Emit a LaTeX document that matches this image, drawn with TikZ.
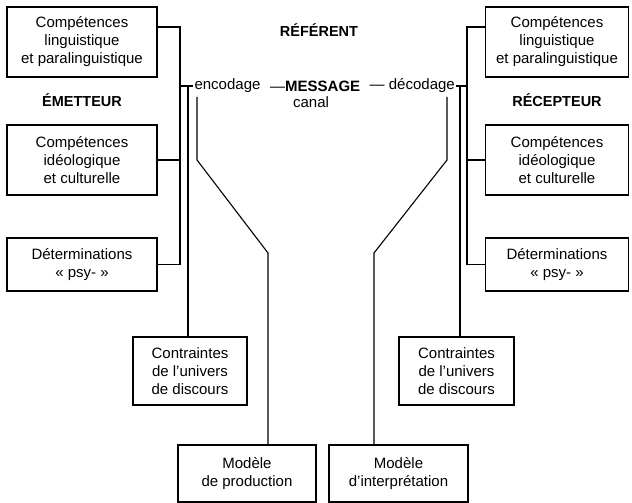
\documentclass[tikz,border=0pt]{standalone}
\usepackage{fontspec}
\setmainfont{Liberation Sans}
\usetikzlibrary{positioning,calc}
\tikzset{
  box/.style      = {draw, line width=1.1pt, align=center, inner sep=2pt,
                     font=\fontsize{15}{18}\selectfont},
  widebox/.style  = {box, minimum width=150, minimum height=70},
  psybox/.style   = {box, minimum width=150, minimum height=53},
  wire/.style     = {line width=1.1pt},
  role/.style     = {font=\fontsize{14.5}{17}\selectfont\bfseries},
  flow/.style     = {font=\fontsize{15}{17}\selectfont, inner sep=1pt},
}

\begin{document}
\begin{tikzpicture}[x=1pt,y=1pt]
  \useasboundingbox (0,0) rectangle (632,503);

  % emetteur side
  \node[widebox] (lling) at (82,461) {Compétences\\linguistique\\et paralinguistique};
  \node[role] (emet) at (82,403) {ÉMETTEUR};
  \node[widebox] (lideo) at (82,343) {Compétences\\idéologique\\et culturelle};
  \node[psybox] (lpsy) at (82,238.5) {Déterminations\\« psy- »};
  \node[box, minimum width=114, minimum height=68] (lcontr) at (190,132)
       {Contraintes\\de l’univers\\de discours};
  \node[box, minimum width=138, minimum height=57] (lprod) at (247,29.5)
       {Modèle\\de production};

  % recepteur side
  \node[widebox, minimum width=143] (rling) at (557,461) {Compétences\\linguistique\\et paralinguistique};
  \node[role] (recep) at (557,403) {RÉCEPTEUR};
  \node[widebox, minimum width=143] (rideo) at (557,343) {Compétences\\idéologique\\et culturelle};
  \node[psybox, minimum width=143] (rpsy) at (557,238.5) {Déterminations\\« psy- »};
  \node[box, minimum width=115, minimum height=68] (rcontr) at (456.5,132)
       {Contraintes\\de l’univers\\de discours};
  \node[box, minimum width=139, minimum height=57] (rinterp) at (398.5,29.5)
       {Modèle\\d’interprétation};

  % middle line
  \node[role] (refer) at (319,473) {RÉFÉRENT};
  \node[flow] (enc) at (227.5,417) {encodage};
  \node[flow, anchor=west] (msg) at (269,417) {—\textbf{MESSAGE}};
  \node[flow, anchor=east] (dec) at (456,417) {— décodage};
  \node[flow] (canal) at (311,401) {canal};

  \coordinate (lspine) at (180,0);
  \coordinate (rspine) at (467,0);
  \coordinate (lturn) at (197,343);
  \coordinate (lknee) at (268,250);
  \coordinate (rturn) at (447,343);
  \coordinate (rknee) at (374,250);

  % left wiring
  \draw[wire] (lling.east |- 0,476) -| (lspine |- lpsy.east) -- (lpsy.east);
  \draw[wire] (lideo.east) -- (lideo.east -| lspine);
  \draw[wire] (enc.west -| lspine) -- (enc.west);
  \draw[wire] (enc.west -| 188,0) -- (lcontr.north -| 188,0);
  \draw[wire] (lturn |- 0,406) -- (lturn) -- (lknee) -- (lknee |- lprod.north);

  % right wiring
  \draw[wire] (rling.west |- 0,476) -| (rspine |- rpsy.west) -- (rpsy.west);
  \draw[wire] (rideo.west) -- (rideo.west -| rspine);
  \draw[wire] (dec.east) -- (dec.east -| rspine);
  \draw[wire] (dec.east -| 460,0) -- (rcontr.north -| 460,0);
  \draw[wire] (rturn |- 0,406) -- (rturn) -- (rknee) -- (rknee |- rinterp.north);
\end{tikzpicture}
\end{document}
